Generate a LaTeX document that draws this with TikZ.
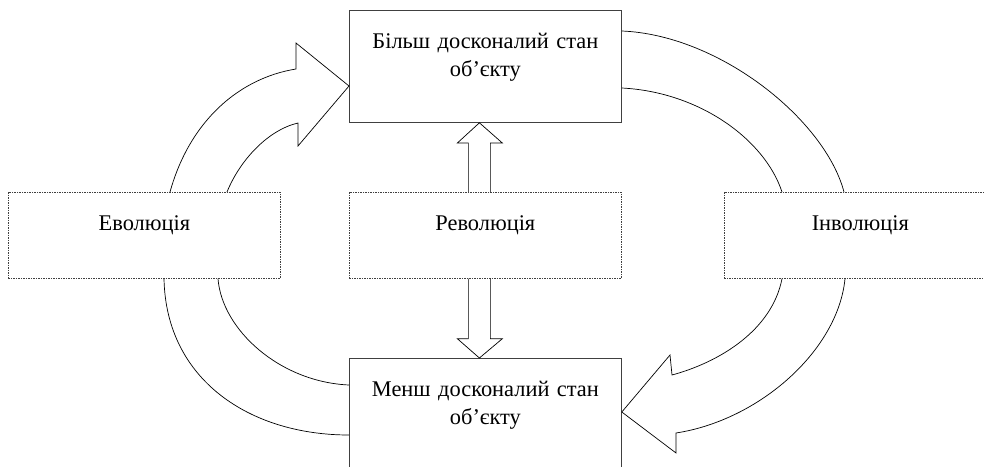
\documentclass[tikz,border=0pt]{standalone}
\usepackage{fontspec}
\setmainfont{Liberation Serif}
\usetikzlibrary{calc}

\begin{document}
\begin{tikzpicture}[x=1pt,y=-1pt,
  font=\fontsize{22.4}{28}\selectfont,
  state/.style={draw=black!75, line width=0.8pt, fill=white, text width=272pt, align=center, inner sep=0pt, text height=38pt, text depth=74pt},
  proc/.style={draw=black!75, line width=0.7pt, dash pattern=on 1.5pt off 1pt, fill=white, text width=272pt, align=center, inner sep=0pt, text height=38pt, text depth=48pt},
  band/.style={draw=black, line width=0.7pt},
]
\useasboundingbox (0,0) rectangle (984,466);

% states of the object
\node[state, anchor=north west] (better) at (349,10) {Більш досконалий стан\\об’єкту};
\node[state, anchor=north west] (worse) at (349,358) {Менш досконалий стан\\об’єкту};
% ways of change
\node[proc, anchor=north west] (evo) at (8,192) {Еволюція};
\node[proc, anchor=north west] (rev) at (349,192) {Революція};
\node[proc, anchor=north west] (inv) at (724,192) {Інволюція};

% evolution: worse -> evo -> better
\draw[band] ($(evo.south west)+(156,0)$) .. controls (166,380) and (250,435) .. ($(worse.north west)+(0,77)$);
\draw[band] ($(evo.south west)+(210,0)$) .. controls (222,330) and (280,382) .. ($(worse.north west)+(0,27)$);
\draw[band] ($(evo.north west)+(162,0)$) .. controls (190,120) and (240,78) .. (296,69)
  -- (296,43) -- ($(better.north west)+(0,76)$) -- (298,146) -- (298,123)
  .. controls (268,130) and (240,160) .. ($(evo.north west)+(219,0)$);

% involution: better -> inv -> worse
\draw[band] ($(better.north east)+(0,21)$) .. controls (720,35) and (825,120) .. ($(inv.north west)+(120,0)$);
\draw[band] ($(better.north east)+(0,78)$) .. controls (700,92) and (765,140) .. ($(inv.north west)+(58,0)$);
\draw[band] ($(inv.south west)+(121,0)$) .. controls (838,350) and (760,420) .. (676,433)
  -- (676,453) -- ($(worse.north east)+(0,54)$) -- (670,355) -- (672,375)
  .. controls (720,362) and (772,330) .. ($(inv.south west)+(58,0)$);

% revolution: both ways
\draw[band] ($(rev.north)+(-17,0)$) -- ++(0,-49) -- ++(-11,0) -- ($(better.south)+(-6,0)$)
  -- ($(rev.north)+(17,-49)$) -- ++(-12,0) -- ($(rev.north)+(5,0)$);
\draw[band] ($(rev.south)+(-17,0)$) -- ++(0,60) -- ++(-11,0) -- ($(worse.north)+(-6,0)$)
  -- ($(rev.south)+(17,60)$) -- ++(-12,0) -- ($(rev.south)+(5,0)$);
\end{tikzpicture}
\end{document}
